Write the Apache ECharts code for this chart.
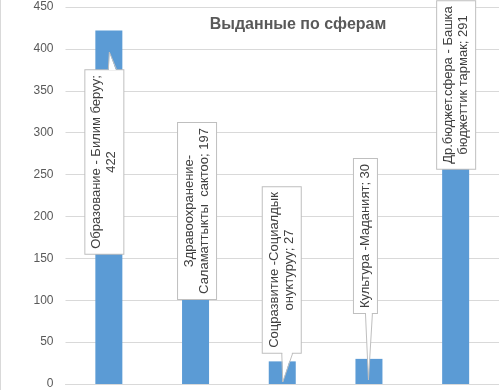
<!DOCTYPE html>
<html>
<head>
<meta charset="utf-8">
<script src="https://cdn.jsdelivr.net/npm/echarts@6/dist/echarts.min.js"></script>
<style>html,body{margin:0;padding:0;background:#fff;}#c{width:499px;height:390px;}</style>
</head>
<body>
<div id="c"></div>
<script>
const title = 'Выданные по сферам';
const categories = ['Образование - Билим беруу', 'Здравоохранение-Саламаттыкты  сактоо', 'Соцразвитие -Социалдык онуктуруу', 'Культура -Маданият', 'Др.бюджет.сфера - Башка бюджеттик тармак'];
const values = [422, 197, 27, 30, 291];
const labelLines = [
  ['Образование - Билим беруу;', '422'],
  ['Здравоохранение-', 'Саламаттыкты  сактоо; 197'],
  ['Соцразвитие -Социалдык', 'онуктуруу; 27'],
  ['Культура -Маданият; 30'],
  ['Др.бюджет.сфера - Башка', 'бюджеттик тармак; 291']
];
const yTicks = [0, 50, 100, 150, 200, 250, 300, 350, 400, 450];

// label box placement (style): offset from bar centre, box centre y
const labelBoxes = [
  {dx: -4.5, cy: 162}, {dx: 1.5, cy: 211}, {dx: -0.5, cy: 270}, {dx: -3.5, cy: 236}, {dx: 0.5, cy: 85}
];
// callout pointers (style): category index, base y, base x offsets, tip
const pointers = [
  {cat: 0, baseY: 69, b1: -0.5, b2: 7.5, tipDx: 0.5, tipY: 52},
  {cat: 2, baseY: 353, b1: -0.5, b2: 10.5, tipDx: 0.5, tipY: 382},
  {cat: 3, baseY: 313, b1: -3.5, b2: 3.5, tipDx: -0.5, tipY: 380}
];

const chart = echarts.init(document.getElementById('c'), null, {renderer: 'canvas'});
const font = "'Liberation Sans', Arial, sans-serif";
chart.setOption({
  animation: false,
  backgroundColor: '#ffffff',
  title: {
    text: title, left: 293, top: 12, textAlign: 'center',
    textStyle: {fontFamily: font, fontSize: 16, fontWeight: 'bold', color: '#595959'}
  },
  grid: {left: 65.5, right: 0, top: 7, bottom: 5, containLabel: false},
  xAxis: {
    type: 'category', data: categories,
    axisLabel: {show: false}, axisTick: {show: false},
    axisLine: {show: true, lineStyle: {color: '#d9d9d9'}}
  },
  yAxis: {
    type: 'value', min: yTicks[0], max: yTicks[yTicks.length - 1], interval: 50,
    axisLine: {show: false}, axisTick: {show: false},
    axisLabel: {fontFamily: font, fontSize: 12, color: '#595959', margin: 12},
    splitLine: {lineStyle: {color: '#d9d9d9'}}
  },
  graphic: [{type: 'line', shape: {x1: 0.5, y1: 0, x2: 0.5, y2: 390}, style: {stroke: '#d9d9d9', lineWidth: 1}}],
  series: [{
    type: 'bar', data: values, barWidth: 27, z: 2,
    itemStyle: {color: '#5b9bd5'},
    label: {
      show: true, rotate: 90,
      formatter: p => labelLines[p.dataIndex].join('\n'),
      fontFamily: font, fontSize: 13, lineHeight: 15, color: '#404040',
      backgroundColor: '#ffffff', borderColor: '#bfbfbf', borderWidth: 1,
      padding: [4, 5, 4, 5]
    },
    labelLayout: function (params) {
      const b = labelBoxes[params.dataIndex];
      return {x: params.rect.x + params.rect.width / 2 + b.dx, y: b.cy, align: 'center', verticalAlign: 'middle'};
    }
  }, {
    type: 'custom', z: 10, silent: true,
    data: pointers.map(p => [p.cat, 0]),
    renderItem: function (params, api) {
      const p = pointers[params.dataIndex];
      const c = api.coord([api.value(0), 0]);
      const cx = c[0];
      const dir = p.tipY < p.baseY ? 1 : -1;
      const a = [cx + p.b1, p.baseY], b = [cx + p.b2, p.baseY], t = [cx + p.tipDx, p.tipY];
      return {type: 'group', children: [
        {type: 'polygon', shape: {points: [[a[0] + 0.5, a[1] + dir * 1], t, [b[0] - 0.5, b[1] + dir * 1]]}, style: {fill: '#ffffff', stroke: null}},
        {type: 'polyline', shape: {points: [a, t, b]}, style: {stroke: '#bfbfbf', lineWidth: 1, fill: null}}
      ]};
    }
  }]
});
</script>
</body>
</html>
